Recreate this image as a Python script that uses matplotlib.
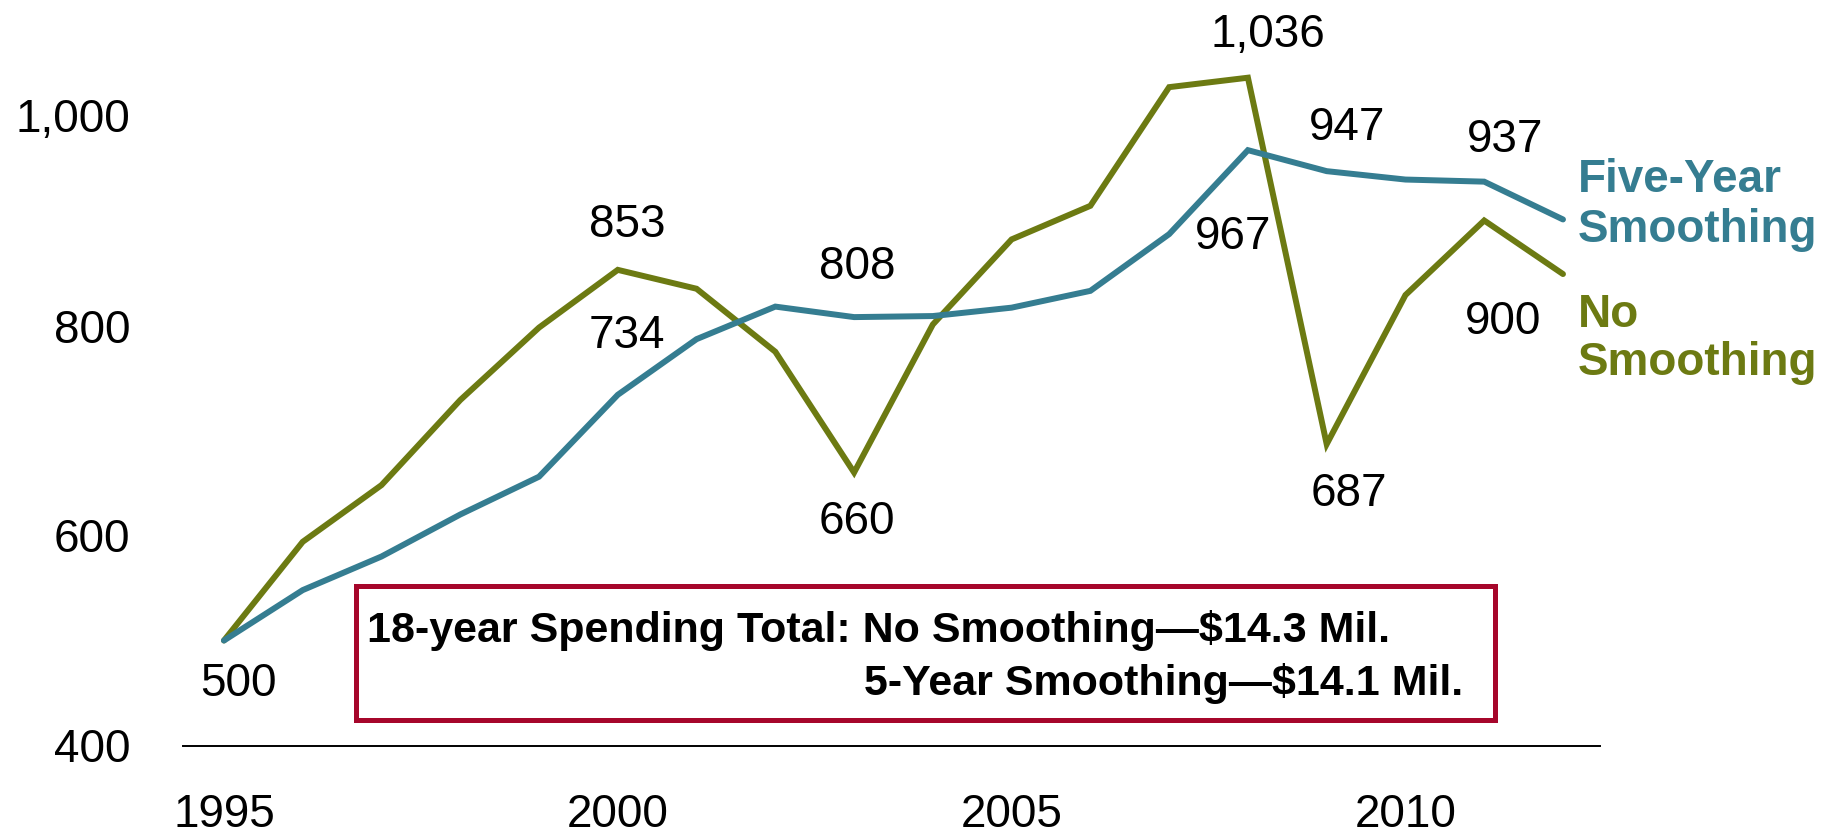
import matplotlib.pyplot as plt
from matplotlib.patches import Rectangle
from matplotlib.ticker import FuncFormatter

plt.rcParams['font.family'] = ['Liberation Sans', 'DejaVu Sans']

years = list(range(1995, 2013))
no_smoothing = [500, 594, 648, 729, 798, 853, 835, 775, 660, 801, 882, 914, 1027, 1036, 687, 829, 900, 849]
five_year = [500, 548, 580, 620, 656, 734, 787, 818, 808, 809, 817, 833, 887, 967, 947, 939, 937, 901]

series_names = ['No\nSmoothing', 'Five-Year\nSmoothing']
year_ticks = [1995, 2000, 2005, 2010]
value_ticks = [400, 600, 800, 1000]

# years that get a value label, with the label offset in pixels (dx, dy to baseline)
labels_no = {1995: (14, -56), 2000: (9, 33), 2003: (3, -61), 2008: (20, 31), 2009: (22, -62), 2011: (19, -114)}
labels_five = {2000: (9, 47), 2003: (3, 38), 2008: (-15, -99), 2009: (20, 31), 2011: (21, 30)}

totals = ['18-year Spending Total: No Smoothing\u2014$14.3 Mil.',
          '5-Year Smoothing\u2014$14.1 Mil.']

GREEN = '#6C7A12'
TEAL = '#357D91'
PX = 0.72  # points per pixel at dpi 100
W, H = 1847, 835

fig = plt.figure(figsize=(W / 100, H / 100), dpi=100)
ax = fig.add_axes([183 / W, 1 - 745.5 / H, (1600 - 183) / W, 735 / H])

for vals, col in [(no_smoothing, GREEN), (five_year, TEAL)]:
    ax.plot(years, vals, color=col, lw=4.3, solid_joinstyle='miter', solid_capstyle='round')

ax.set_xlim(1994.48, 2012.47)
ax.set_ylim(400, 1100)
ax.set_xticks(year_ticks)
ax.set_yticks(value_ticks)
ax.yaxis.set_major_formatter(FuncFormatter(lambda v, p: f'{int(v):,}'))
ax.tick_params(length=0, labelsize=33, colors='black')
ax.tick_params(axis='y', pad=38)
ax.tick_params(axis='x', pad=34)
for s in ['left', 'top', 'right']:
    ax.spines[s].set_visible(False)
ax.spines['bottom'].set_color('black')
ax.spines['bottom'].set_linewidth(1.4)

# value labels
for vals, offs in [(no_smoothing, labels_no), (five_year, labels_five)]:
    for yr, (dx, dy) in offs.items():
        v = vals[years.index(yr)]
        ax.annotate(f'{v:,}', (yr, v), xytext=(dx * PX, dy * PX), textcoords='offset points',
                    ha='center', va='baseline', fontsize=33, color='black')

# series names at the line ends
name_offsets = {0: [(15, -53), (15, -101)], 1: [(15, 27.5), (15, -22.5)]}
for i, (vals, col) in enumerate([(no_smoothing, GREEN), (five_year, TEAL)]):
    for line, (dx, dy) in zip(series_names[i].split('\n'), name_offsets[i]):
        ax.annotate(line, (years[-1], vals[-1]), xytext=(dx * PX, dy * PX), textcoords='offset points',
                    ha='left', va='baseline', fontsize=33, fontweight='bold', color=col,
                    annotation_clip=False)

# spending totals box
fig.add_artist(Rectangle((356 / W, 1 - 720 / H), (1495 - 356) / W, 134 / H,
                         transform=fig.transFigure, fill=False, edgecolor='#A6062B', lw=3.6))
fig.text(367 / W, 1 - 642 / H, totals[0], fontsize=31, fontweight='bold', ha='left', va='baseline')
fig.text(864 / W, 1 - 695 / H, totals[1], fontsize=31, fontweight='bold', ha='left', va='baseline')

fig.savefig('out.png', dpi=100)
